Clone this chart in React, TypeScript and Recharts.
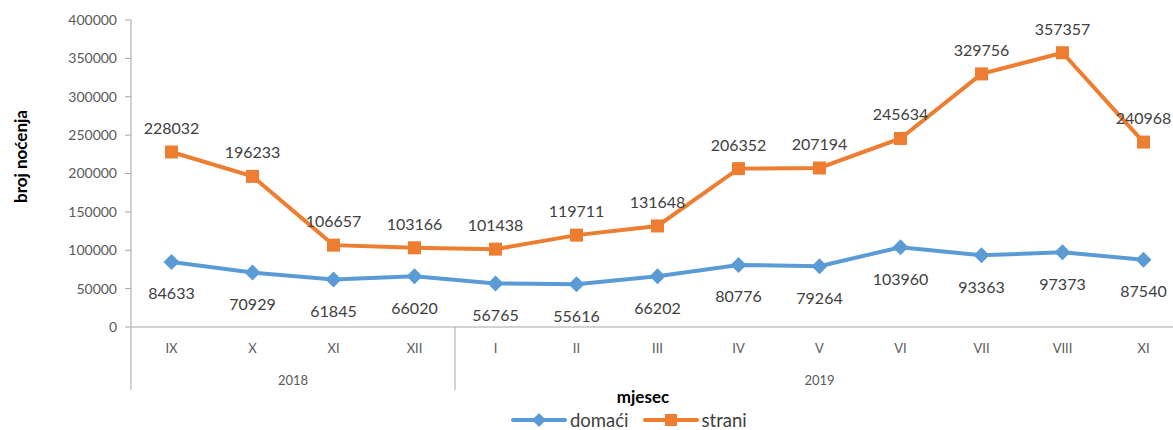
import React from 'react';
import { LineChart, Line, XAxis, YAxis, LabelList } from 'recharts';

const months = ['IX', 'X', 'XI', 'XII', 'I', 'II', 'III', 'IV', 'V', 'VI', 'VII', 'VIII', 'XI'];
const domaci = [84633, 70929, 61845, 66020, 56765, 55616, 66202, 80776, 79264, 103960, 93363, 97373, 87540];
const strani = [228032, 196233, 106657, 103166, 101438, 119711, 131648, 206352, 207194, 245634, 329756, 357357, 240968];
const years = [
  { label: '2018', count: 4 },
  { label: '2019', count: 9 },
];
const yTicks = [0, 50000, 100000, 150000, 200000, 250000, 300000, 350000, 400000];

const data = months.map((m, i) => ({ month: m, domaci: domaci[i], strani: strani[i] }));

const BLUE = '#5B9BD5';
const ORANGE = '#ED7D31';
const FONT = 'Lato, "Open Sans", sans-serif';

const CHART_W = 1190;
const CHART_H = 430;
const MARGIN = { top: 20, right: 6, bottom: 23, left: 6 };
const Y_W = 125;
const X_PAD = 40.5;
const PLOT_W = CHART_W - MARGIN.left - MARGIN.right - Y_W;
const STEP = (PLOT_W - 2 * X_PAD) / (months.length - 1);

// group start index -> year entry
const groupStarts: Record<number, { label: string; count: number }> = {};
let acc = 0;
years.forEach((y) => {
  groupStarts[acc] = y;
  acc += y.count;
});

const MonthTick = (props: any) => {
  const { x, y, payload, index } = props;
  const grp = groupStarts[index];
  return (
    <g>
      <text x={x} y={y + 26} textAnchor="middle" fontSize={13} fill="#595959" fontFamily={FONT}>
        {payload.value}
      </text>
      {grp && (
        <g>
          <line x1={x - STEP / 2} x2={x - STEP / 2} y1={y} y2={y + 63} stroke="#a6a6a6" strokeWidth={1} />
          <text
            x={x - STEP / 2 + (grp.count * STEP) / 2}
            y={y + 58}
            textAnchor="middle"
            fontSize={13}
            fill="#595959"
            fontFamily={FONT}
          >
            {grp.label}
          </text>
        </g>
      )}
    </g>
  );
};

const Diamond = (props: any) => {
  const { cx, cy } = props;
  if (cx == null || cy == null) return null;
  const r = 8;
  return <path d={`M${cx},${cy - r}L${cx + r},${cy}L${cx},${cy + r}L${cx - r},${cy}Z`} fill={BLUE} />;
};

const Square = (props: any) => {
  const { cx, cy } = props;
  if (cx == null || cy == null) return null;
  const s = 6.5;
  return <rect x={cx - s} y={cy - s} width={2 * s} height={2 * s} fill={ORANGE} />;
};

const LegendItem = ({ color, label, square }: { color: string; label: string; square?: boolean }) => (
  <div style={{ display: 'flex', alignItems: 'center', marginRight: 14, height: 18 }}>
    <svg width={56} height={14}>
      <line x1={2} x2={54} y1={7} y2={7} stroke={color} strokeWidth={4} strokeLinecap="round" />
      {square ? (
        <rect x={22} y={1} width={12} height={12} fill={color} />
      ) : (
        <path d="M28,0L35,7L28,14L21,7Z" fill={color} />
      )}
    </svg>
    <span style={{ fontSize: 18.5, lineHeight: '18px', color: '#404040', fontFamily: FONT, marginLeft: 3 }}>{label}</span>
  </div>
);

export default function App() {
  return (
    <div style={{ position: 'absolute', left: 0, top: 0, width: 1173, height: 430, overflow: 'hidden', background: '#fff' }}>
      <LineChart width={CHART_W} height={CHART_H} data={data} margin={MARGIN}>
        <XAxis
          dataKey="month"
          interval={0}
          padding={{ left: X_PAD, right: X_PAD }}
          axisLine={{ stroke: '#a6a6a6' }}
          tickLine={false}
          tickSize={0}
          tickMargin={0}
          height={80}
          tick={<MonthTick />}
          label={{
            value: 'mjesec',
            position: 'insideBottom',
            offset: 0,
            content: (p: any) => {
              const vb = p.viewBox;
              return (
                <text
                  x={643}
                  y={vb.y + 76}
                  textAnchor="middle"
                  fontSize={17}
                  fontWeight="bold"
                  fill="#000"
                  fontFamily={FONT}
                >
                  mjesec
                </text>
              );
            },
          }}
        />
        <YAxis
          width={Y_W}
          domain={[0, 400000]}
          ticks={yTicks}
          interval={0}
          axisLine={{ stroke: '#a6a6a6' }}
          tickLine={{ stroke: '#a6a6a6' }}
          tickSize={6}
          tickMargin={8}
          tick={{ fontSize: 14, fill: '#595959', fontFamily: FONT }}
          label={{
            value: 'broj noćenja',
            content: (p: any) => {
              const vb = p.viewBox;
              const cy = vb.y + vb.height / 2 - 17;
              return (
                <text
                  x={20}
                  y={cy}
                  transform={`rotate(-90, 20, ${cy})`}
                  textAnchor="middle"
                  dominantBaseline="central"
                  fontSize={17}
                  fontWeight="bold"
                  fill="#000"
                  fontFamily={FONT}
                >
                  broj noćenja
                </text>
              );
            },
          }}
        />
        <Line
          dataKey="domaci"
          stroke={BLUE}
          strokeWidth={4}
          dot={<Diamond />}
          activeDot={false}
          isAnimationActive={false}
        >
          <LabelList dataKey="domaci" position="bottom" offset={26} fontSize={16} fill="#404040" fontFamily={FONT} />
        </Line>
        <Line
          dataKey="strani"
          stroke={ORANGE}
          strokeWidth={4}
          dot={<Square />}
          activeDot={false}
          isAnimationActive={false}
        >
          <LabelList dataKey="strani" position="top" offset={18} fontSize={16} fill="#404040" fontFamily={FONT} />
        </Line>
      </LineChart>
      <div style={{ position: 'absolute', left: 511, top: 411, display: 'flex' }}>
        <LegendItem color={BLUE} label="domaći" />
        <LegendItem color={ORANGE} label="strani" square />
      </div>
    </div>
  );
}
